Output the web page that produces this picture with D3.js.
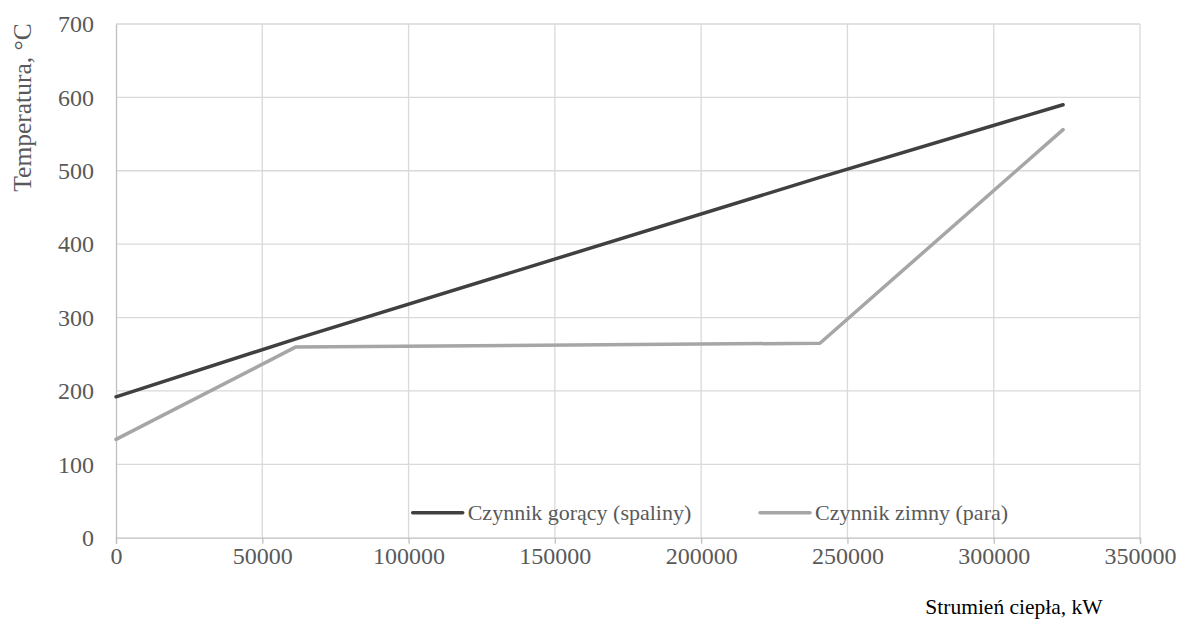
<!DOCTYPE html>
<html><head><meta charset="utf-8">
<script src="https://cdn.jsdelivr.net/npm/d3@7"></script>
<style>body{margin:0;background:#fff;}svg{display:block;}text{font-family:"Liberation Serif","Times New Roman",serif;}</style>
</head><body>
<script>
const xValues = [0, 61500, 240600, 323700];
const hotValues = [192, 271, 491, 590];
const coldValues = [134, 260, 265, 556];
const seriesNames = ["Czynnik gorący (spaliny)", "Czynnik zimny (para)"];
const seriesColors = ["#404040", "#a6a6a6"];
const xTicks = [0, 50000, 100000, 150000, 200000, 250000, 300000, 350000];
const yTicks = [0, 100, 200, 300, 400, 500, 600, 700];
const xTitle = "Strumień ciepła, kW";
const yTitle = "Temperatura, °C";

const W = 1179, H = 626;
const L = 116, R = 1140, T = 24, B = 537.7;
const svg = d3.select("body").append("svg").attr("width", W).attr("height", H);
const x = d3.scaleLinear().domain([0, 350000]).range([L, R]);
const y = d3.scaleLinear().domain([0, 700]).range([B, T]);

// grid
svg.append("g").selectAll("line").data(yTicks.filter(d => d > 0)).join("line")
  .attr("x1", L).attr("x2", R).attr("y1", d => y(d)).attr("y2", d => y(d))
  .attr("stroke", "#d9d9d9").attr("stroke-width", 1.3);
svg.append("g").selectAll("line").data(xTicks.filter(d => d > 0)).join("line")
  .attr("x1", d => x(d)).attr("x2", d => x(d)).attr("y1", T).attr("y2", B)
  .attr("stroke", "#d9d9d9").attr("stroke-width", 1.3);

// axes
const xAxis = d3.axisBottom(x).tickValues(xTicks).tickSize(6).tickPadding(3).tickFormat(d3.format("d"));
const gx = svg.append("g").attr("transform", `translate(0,${B})`).call(xAxis);
gx.select(".domain").attr("stroke", "#bfbfbf").attr("stroke-width", 1.3);
gx.selectAll(".tick line").attr("stroke", "#bfbfbf").attr("stroke-width", 1.3);
gx.selectAll(".tick text").attr("font-size", 24).attr("fill", "#595959")
  .attr("font-family", "Liberation Serif, serif").attr("dy", "0.71em");

const yAxis = d3.axisLeft(y).tickValues(yTicks).tickSize(0).tickPadding(22);
const gy = svg.append("g").attr("transform", `translate(${L},0)`).call(yAxis);
gy.select(".domain").attr("stroke", "#bfbfbf").attr("stroke-width", 1.3);
gy.selectAll(".tick text").attr("font-size", 24).attr("fill", "#595959")
  .attr("font-family", "Liberation Serif, serif");

// lines
const line = d3.line().x((d, i) => x(xValues[i])).y(d => y(d));
[hotValues, coldValues].forEach((vals, i) => {
  svg.append("path").datum(vals).attr("d", line).attr("fill", "none")
    .attr("stroke", seriesColors[i]).attr("stroke-width", 3.5)
    .attr("stroke-linejoin", "round").attr("stroke-linecap", "round");
});

// legend
const legendX = [412.7, 760];
seriesNames.forEach((n, i) => {
  const g = svg.append("g");
  g.append("line").attr("x1", legendX[i]).attr("x2", legendX[i] + 50)
    .attr("y1", 512.7).attr("y2", 512.7).attr("stroke", seriesColors[i])
    .attr("stroke-width", 3.5).attr("stroke-linecap", "round");
  g.append("text").attr("x", legendX[i] + 55).attr("y", 520).attr("font-size", 22)
    .attr("fill", "#595959").text(n);
});

// titles
svg.append("text").attr("x", 1014).attr("y", 614).attr("text-anchor", "middle")
  .attr("font-size", 21.5).attr("fill", "#000").text(xTitle);
svg.append("text").attr("transform", "translate(31,107.5) rotate(-90)").attr("text-anchor", "middle")
  .attr("font-size", 25.5).attr("fill", "#595959").text(yTitle);
</script>
</body></html>
